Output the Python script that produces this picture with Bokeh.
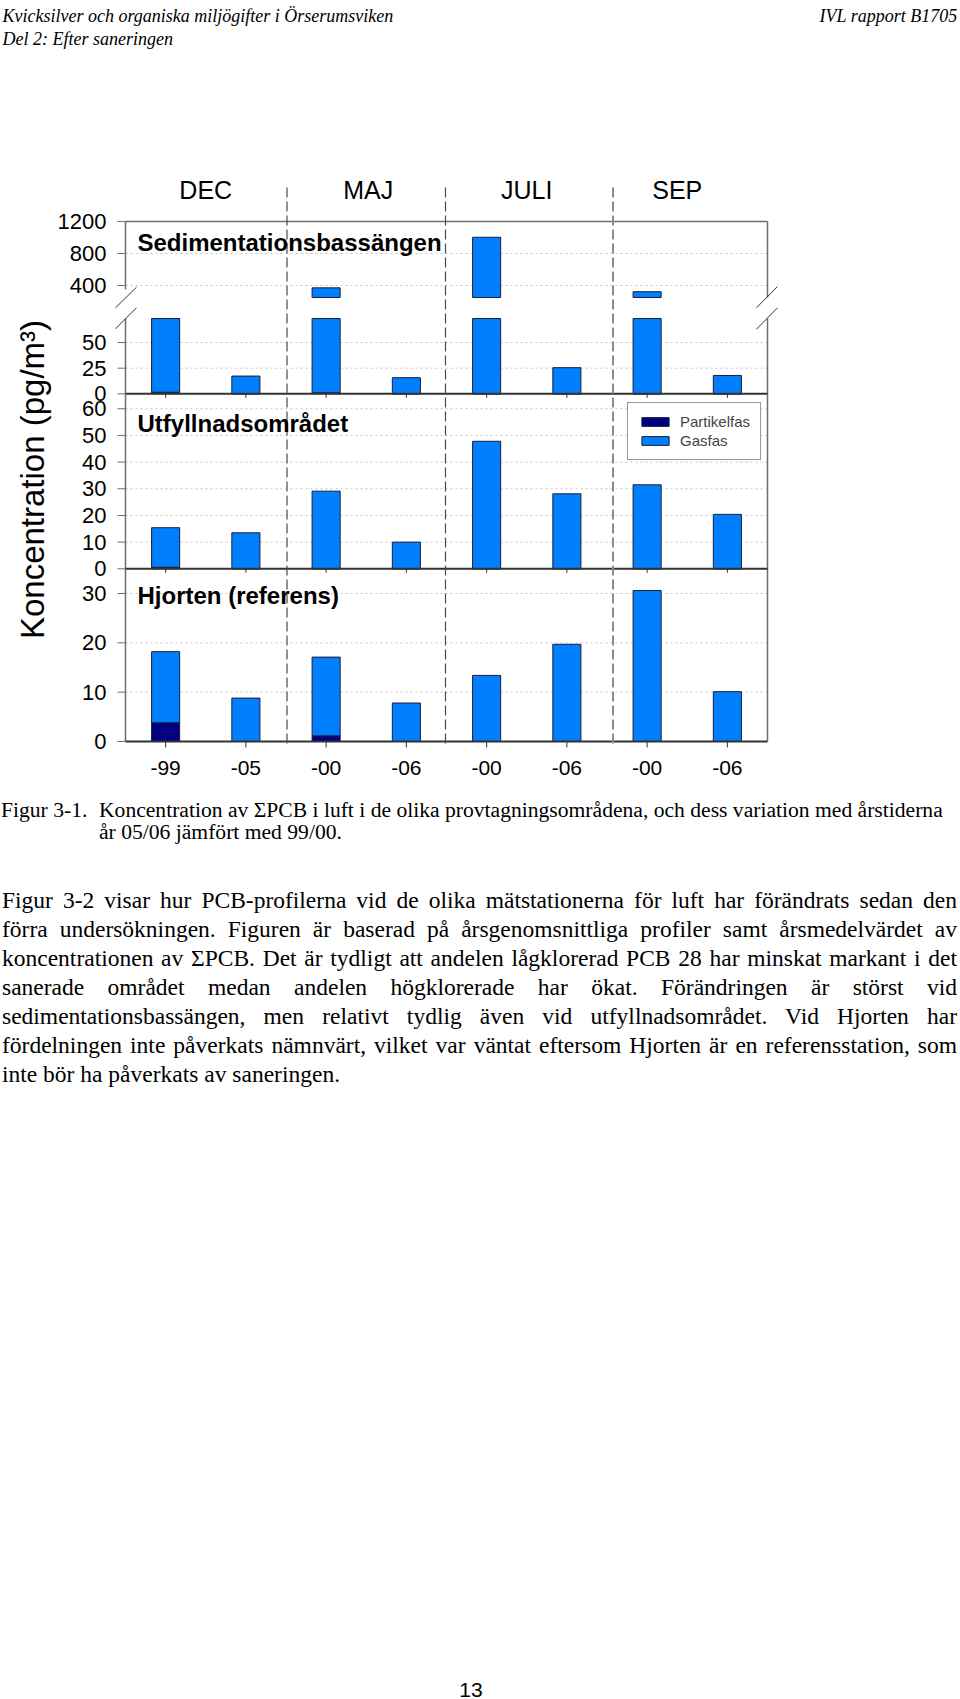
import numpy as np
from bokeh.plotting import figure
from bokeh.models import Range1d, Legend, LegendItem, Div
from bokeh.layouts import column
from bokeh.core.properties import value
from bokeh.embed import file_html
from bokeh.resources import INLINE

# ---------------- data ----------------
periods = ["-99", "-05", "-00", "-06", "-00", "-06", "-00", "-06"]
months = ["DEC", "MAJ", "JULI", "SEP"]
stations = ["Sedimentationsbassängen", "Utfyllnadsområdet", "Hjorten (referens)"]
series = ["Partikelfas", "Gasfas"]

sed_total = [180.0, 17.3, 371.0, 15.7, 1003.0, 25.5, 322.0, 17.9]
sed_part = [1.5, 0.0, 1.0, 0.0, 0.0, 0.0, 0.0, 0.0]
utf_total = [15.4, 13.5, 29.1, 10.0, 47.8, 28.1, 31.5, 20.4]
utf_part = [0.6, 0.0, 0.0, 0.0, 0.0, 0.0, 0.0, 0.0]
hjo_total = [18.2, 8.8, 17.1, 7.8, 13.4, 19.7, 30.6, 10.1]
hjo_part = [3.8, 0.0, 1.15, 0.0, 0.0, 0.0, 0.0, 0.0]

sed_hi_ticks = [400, 800, 1200]
sed_lo_ticks = [0, 25, 50]
utf_ticks = [0, 10, 20, 30, 40, 50, 60]
hjo_ticks = [0, 10, 20, 30]

y_title = "Koncentration (pg/m³)"
header_left = ["Kvicksilver och organiska miljögifter i Örserumsviken", "Del 2: Efter saneringen"]
header_right = "IVL rapport B1705"
caption_label = "Figur 3-1."
caption_lines = ["Koncentration av ΣPCB i luft i de olika provtagningsområdena, och dess variation med årstiderna",
                 "år 05/06 jämfört med 99/00."]
para_lines = [
    "Figur 3-2 visar hur PCB-profilerna vid de olika mätstationerna för luft har förändrats sedan den",
    "förra undersökningen. Figuren är baserad på årsgenomsnittliga profiler samt årsmedelvärdet av",
    "koncentrationen av ΣPCB. Det är tydligt att andelen lågklorerad PCB 28 har minskat markant i det",
    "sanerade området medan andelen högklorerade har ökat. Förändringen är störst vid",
    "sedimentationsbassängen, men relativt tydlig även vid utfyllnadsområdet. Vid Hjorten har",
    "fördelningen inte påverkats nämnvärt, vilket var väntat eftersom Hjorten är en referensstation, som",
    "inte bör ha påverkats av saneringen.",
]
page_number = "13"

# ---------------- layout / style ----------------
W, FIG_H, PAGE_H = 960, 791, 1699
X_LEFT, X_RIGHT = 125, 767
AXIS_PX = 741
N = len(periods)
CAT_W = (X_RIGHT - X_LEFT) / N
BAR_W = 0.35
NAVY, BLUE, EDGE = "#000080", "#0080ff", "#1c1c3c"
FRAME_C, DARK, GRID_C = "#6e6e6e", "#333333", "#c4c4c4"
SANS, SERIF = "Liberation Sans", "Liberation Serif"
MONTH_DX = [0, 2, 0, -10]      # hand placement of the season labels (px)
SEP_DX = [1, -1, 6]            # hand placement of the season separators (px)

# panel geometry: px_top, px_bottom, value at bottom, value at top
PANELS = {
    "sed_hi": (221, 297, 250, 1200),
    "sed_lo": (318, 393.3, 0, 73.5),
    "utf": (393.3, 568.3, 0, 65.6),
    "hjo": (568.3, AXIS_PX, 0, 35),
}
TICKS = {"sed_hi": sed_hi_ticks, "sed_lo": sed_lo_ticks, "utf": utf_ticks, "hjo": hjo_ticks}


def make_range(top, bot, vmin, vmax):
    u = (vmax - vmin) / (bot - top)
    return Range1d(vmin - (FIG_H - bot) * u, vmax + top * u)


x0, x1 = -0.5, N - 0.5
xs = list(range(N))

p = figure(width=W, height=FIG_H,
           x_range=Range1d(x0 - X_LEFT / CAT_W, x1 + (W - X_RIGHT) / CAT_W),
           y_range=Range1d(FIG_H, 0),
           output_backend="svg", toolbar_location=None,
           x_axis_location=None, y_axis_location=None,
           min_border_left=0, min_border_right=0, min_border_top=0,
           min_border_bottom=0, outline_line_color=None,
           background_fill_color="white", border_fill_color="white")
p.extra_y_ranges = {k: make_range(*v) for k, v in PANELS.items()}
p.extra_x_ranges = {"px": Range1d(0, W)}
p.xgrid.visible = False
p.ygrid.visible = False

# dotted gridlines
for name, ticks in TICKS.items():
    vmax = PANELS[name][3]
    g = [t for t in ticks if 0 < t < vmax]
    p.segment(x0=[x0] * len(g), x1=[x1] * len(g), y0=g, y1=g, y_range_name=name,
              line_color=GRID_C, line_dash="2 3", line_width=1)

# bars
def stack(name, total, part, cap=None):
    total = np.asarray(total, dtype=float)
    part = np.asarray(part, dtype=float)
    if cap is not None:
        total = np.minimum(total, cap)
        part = np.minimum(part, cap)
    r1 = p.vbar(x=xs, bottom=0, top=part, width=BAR_W, fill_color=NAVY,
                line_color=EDGE, line_width=1, y_range_name=name)
    r2 = p.vbar(x=xs, bottom=part, top=total, width=BAR_W, fill_color=BLUE,
                line_color=EDGE, line_width=1, y_range_name=name)
    return r1, r2

stack("sed_lo", sed_total, sed_part, cap=PANELS["sed_lo"][3])
hi_lo = PANELS["sed_hi"][2]
hi_idx = [i for i, t in enumerate(sed_total) if t > hi_lo]
p.vbar(x=hi_idx, bottom=hi_lo, top=[sed_total[i] for i in hi_idx], width=BAR_W,
       fill_color=BLUE, line_color=EDGE, line_width=1, y_range_name="sed_hi")
utf_r = stack("utf", utf_total, utf_part)
stack("hjo", hjo_total, hjo_part)

# frame lines (gray)
top_px = PANELS["sed_hi"][0]
gap_a, gap_b = PANELS["sed_hi"][1], PANELS["sed_lo"][0]
p.segment(x0=[x0, x0, x0, x1, x1], x1=[x1, x0, x0, x1, x1],
          y0=[top_px, top_px, gap_b, top_px, gap_b],
          y1=[top_px, gap_a - 8, AXIS_PX, gap_a, AXIS_PX],
          line_color=FRAME_C, line_width=1.5)

# dark panel bottoms + small ticks
for name in ["sed_lo", "utf"]:
    p.segment(x0=[x0], x1=[x1], y0=[0], y1=[0], y_range_name=name, line_color=DARK, line_width=2)
    yb = PANELS[name][1]
    p.segment(x0=xs, x1=xs, y0=[yb] * N, y1=[yb + 4] * N, line_color=DARK, line_width=1)

# category axis at the bottom
p.segment(x0=[x0], x1=[x1], y0=[AXIS_PX], y1=[AXIS_PX], line_color=DARK, line_width=2)
p.segment(x0=xs, x1=xs, y0=[AXIS_PX] * N, y1=[AXIS_PX + 6] * N, line_color=DARK, line_width=1)
p.text(x=xs, y=[767] * N, text=periods, text_align="center", text_baseline="middle",
       text_font=value(SANS), text_font_size="21px", text_color="black")

# dashed season separators (between the season pairs)
sep_x = [X_LEFT + (2 * k + 2) * CAT_W + d for k, d in enumerate(SEP_DX)]
p.segment(x0=sep_x[:2], x1=sep_x[:2], y0=[187] * 2, y1=[743] * 2, x_range_name="px",
          line_color="#4a4a4a", line_width=1.2, line_dash="10 4")
p.segment(x0=sep_x[2:], x1=sep_x[2:], y0=[187], y1=[743], x_range_name="px",
          line_color="#8c8c8c", line_width=2, line_dash="10 4")

# broken axis marks
p.segment(x0=[115, 115, 756, 756], x1=[136, 136, 777, 777],
          y0=[307.3, 328.3, 307.3, 328.7], y1=[286.7, 307.3, 286.0, 307.3],
          x_range_name="px", line_color=DARK, line_width=1)

# y ticks and labels
for name, ticks in TICKS.items():
    n = len(ticks)
    p.segment(x0=[117] * n, x1=[125] * n, y0=ticks, y1=ticks, x_range_name="px",
              y_range_name=name, line_color=FRAME_C, line_width=1)
    p.text(x=[106] * n, y=ticks, text=[str(t) for t in ticks], x_range_name="px",
           y_range_name=name, text_align="right", text_baseline="middle",
           text_font=value(SANS), text_font_size="22px", text_color="black")

# y title
p.text(x=[32], y=[479], text=[y_title], angle=np.pi / 2, x_range_name="px",
       text_align="center", text_baseline="middle",
       text_font=value(SANS), text_font_size="33px", text_color="black")

# months
p.text(x=[2 * k + 0.5 for k in range(len(months))], y=[189.5] * len(months), text=months,
       x_offset=MONTH_DX, text_align="center", text_baseline="middle",
       text_font=value(SANS), text_font_size="25px", text_color="black")

# station titles
p.text(x=[137] * 3, y=[242.3, 422.9, 594.7], text=stations, x_range_name="px",
       text_align="left", text_baseline="middle", text_font=value(SANS),
       text_font_style="bold", text_font_size="24px", text_color="black")

# page header
p.text(x=[2, 2], y=[15, 38], text=header_left, x_range_name="px", text_align="left",
       text_baseline="middle", text_font=value(SERIF), text_font_style="italic",
       text_font_size="18px", text_color="black")
p.text(x=[957], y=[15], text=[header_right], x_range_name="px", text_align="right",
       text_baseline="middle", text_font=value(SERIF), text_font_style="italic",
       text_font_size="18px", text_color="black")

# legend (location = bottom-left corner, measured from frame bottom-left)
legend = Legend(items=[LegendItem(label=series[0], renderers=[utf_r[0]]),
                       LegendItem(label=series[1], renderers=[utf_r[1]])],
                location=(627, FIG_H - 460), margin=0, padding=10, spacing=2,
                glyph_width=34, glyph_height=11, label_standoff=8, label_height=17,
                label_text_font=SANS, label_text_font_size="15px",
                border_line_color=DARK, border_line_width=1,
                background_fill_color="white", background_fill_alpha=1)
p.add_layout(legend)

# ---------------- text block below the chart ----------------
TEXT_H = PAGE_H - FIG_H
cap_style = "position:absolute;top:8px;font-size:21.6px;line-height:22.3px;white-space:nowrap;"
cap_html = (
    f'<div style="left:1px;{cap_style}">{caption_label}</div>'
    f'<div style="left:99px;{cap_style}">' + "<br>".join(caption_lines) + "</div>"
)
rows = []
for i, line in enumerate(para_lines):
    al = "left" if i == len(para_lines) - 1 else "justify"
    rows.append(f'<div style="text-align:{al};text-align-last:{al};white-space:nowrap;'
                f'height:29px;line-height:29px;">{line}</div>')
para_html = ('<div style="position:absolute;left:2px;top:95px;width:955px;font-size:23.5px;">'
             + "".join(rows) + "</div>")
num_html = (f'<div style="position:absolute;left:0px;top:889px;width:942px;text-align:center;'
            f'font-family:\'{SANS}\';font-size:21px;line-height:20px;">{page_number}</div>')
html = (f'<div style="position:relative;width:{W}px;height:{TEXT_H}px;font-family:\'{SERIF}\';color:#000;">'
        + cap_html + para_html + num_html + "</div>")
div = Div(text=html, width=W, height=TEXT_H, margin=0)

layout = column(p, div, spacing=0)
open("out.html", "w").write(file_html(layout, INLINE))
